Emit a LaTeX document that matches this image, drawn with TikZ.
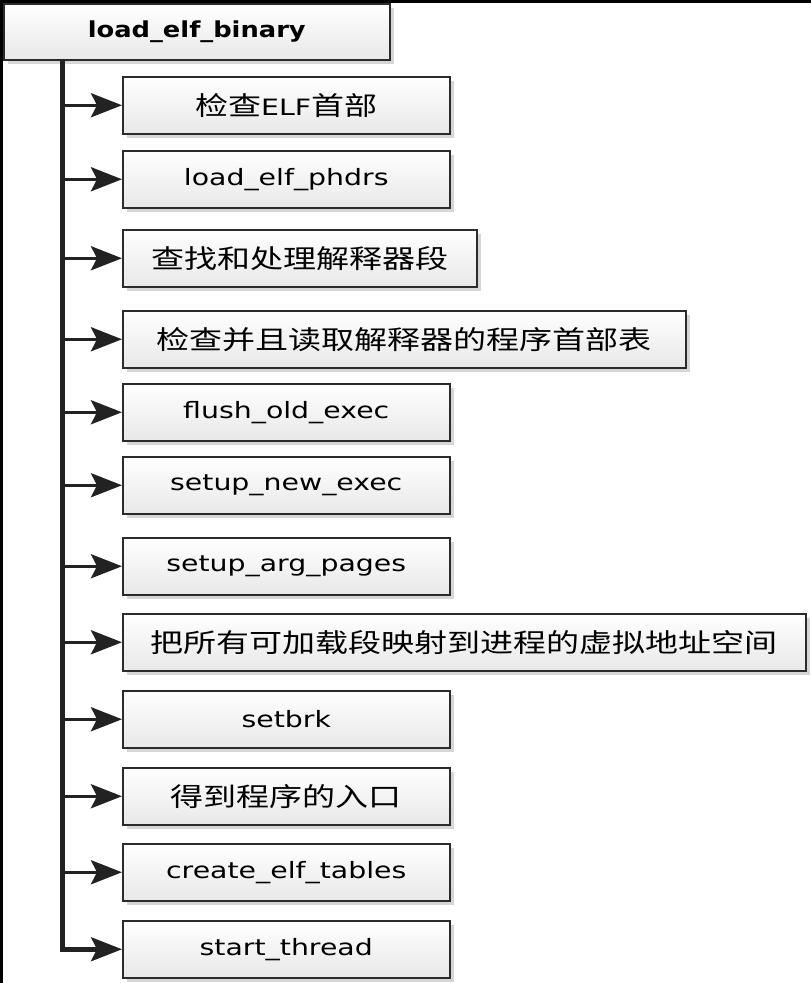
\documentclass[tikz,border=0pt]{standalone}
\usepackage{fontspec}
\setmainfont{DejaVu Sans}
\newfontfamily\cjk{Noto Sans CJK SC}
\usetikzlibrary{arrows.meta,shadows}
\definecolor{boxline}{HTML}{2B2B2B}
\definecolor{boxbot}{HTML}{E8E8E8}
\definecolor{shadowgray}{HTML}{D6D6D6}
\definecolor{trunkc}{HTML}{222222}
\newcommand\lt[1]{\scalebox{1.26}[1]{\fontsize{22.5}{22.5}\selectfont #1}}
\newcommand\lb[1]{\scalebox{1.17}[1]{\fontsize{22}{22}\selectfont\bfseries #1}}
\newcommand\zh[1]{\scalebox{1.27}[1]{\cjk\fontsize{26}{26}\selectfont #1}}
\tikzset{
  box/.style={draw=boxline, line width=1.5pt, top color=white, bottom color=boxbot,
    minimum height=57pt, inner sep=0pt, anchor=north west,
    drop shadow={shadow xshift=4pt, shadow yshift=-4pt, fill=shadowgray, opacity=1}},
  branch/.style={draw=trunkc, line width=3.5pt,
    -{Stealth[length=31pt,width=24pt,inset=6pt]}},
  trunk/.style={draw=trunkc, line width=5pt},
}
\begin{document}
\begin{tikzpicture}[x=1pt,y=-1pt]
\useasboundingbox (0,0) rectangle (811,983);
\fill[black] (0,0) rectangle (811,3);
\fill[black] (0,0) rectangle (2.5,983);
\node[box, minimum width=386pt, minimum height=56pt] (root) at (3,3) {\raisebox{-2pt}{\lb{load\_elf\_binary}}};
\node[box, minimum width=327pt] (b1) at (122,76) {\zh{检查}\lt{ELF}\zh{首部}};
\node[box, minimum width=327pt] (b2) at (122,150) {\lt{load\_elf\_phdrs}};
\node[box, minimum width=354pt] (b3) at (122,229) {\zh{查找和处理解释器段}};
\node[box, minimum width=563pt] (b4) at (122,310) {\zh{检查并且读取解释器的程序首部表}};
\node[box, minimum width=327pt] (b5) at (122,383) {\lt{flush\_old\_exec}};
\node[box, minimum width=327pt] (b6) at (122,456) {\lt{setup\_new\_exec}};
\node[box, minimum width=327pt] (b7) at (122,537) {\lt{setup\_arg\_pages}};
\node[box, minimum width=683pt] (b8) at (122,613) {\zh{把所有可加载段映射到进程的虚拟地址空间}};
\node[box, minimum width=327pt] (b9) at (122,690) {\lt{setbrk}};
\node[box, minimum width=327pt] (b10) at (122,767) {\zh{得到程序的入口}};
\node[box, minimum width=327pt] (b11) at (122,843) {\lt{create\_elf\_tables}};
\node[box, minimum width=327pt] (b12) at (122,920) {\lt{start\_thread}};
\coordinate (tt) at (62.5,59);
\draw[trunk] (tt) |- ([xshift=-25pt]b12.west);
\draw[branch] (b12.west -| tt) -- (b12.west);
\foreach \b in {b1,b2,b3,b4,b5,b6,b7,b8,b9,b10,b11}{
  \draw[branch] (\b.west -| tt) -- (\b.west);
}
\end{tikzpicture}
\end{document}
